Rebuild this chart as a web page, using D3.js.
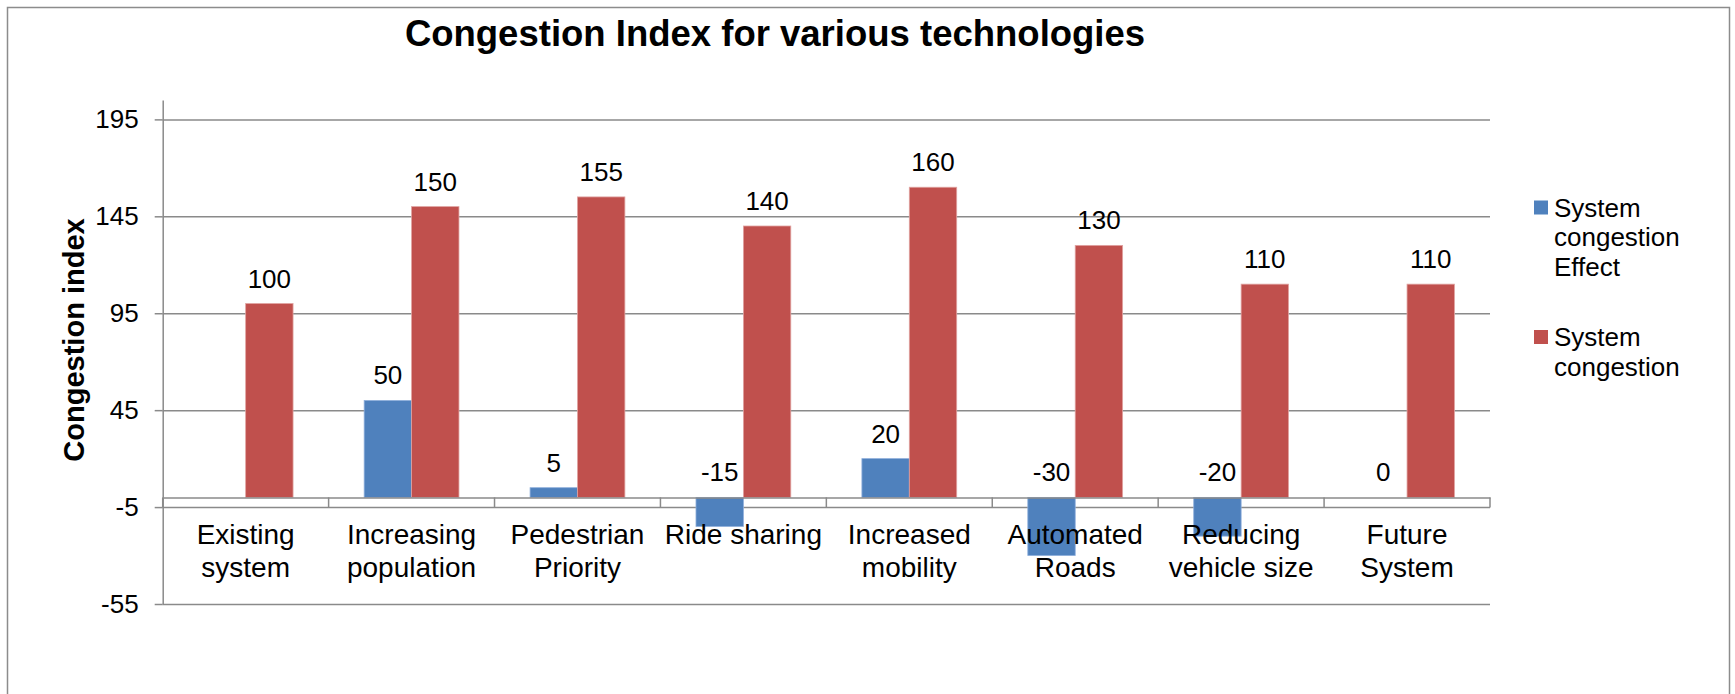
<!DOCTYPE html>
<html>
<head>
<meta charset="utf-8">
<script src="https://cdn.jsdelivr.net/npm/d3@7"></script>
<style>
  body { margin: 0; background: #fff; }
  svg { font-family: "Liberation Sans", Arial, sans-serif; }
</style>
</head>
<body>
<div id="chart"></div>
<script>
// chart data
const categories = ["Existing system", "Increasing population", "Pedestrian Priority", "Ride sharing",
                    "Increased mobility", "Automated Roads", "Reducing vehicle size", "Future System"];
const categoryLines = [["Existing", "system"], ["Increasing", "population"], ["Pedestrian", "Priority"], ["Ride sharing"],
                       ["Increased", "mobility"], ["Automated", "Roads"], ["Reducing", "vehicle size"], ["Future", "System"]];
const effectValues = [null, 50, 5, -15, 20, -30, -20, 0];
const congestionValues = [100, 150, 155, 140, 160, 130, 110, 110];
const seriesNames = [["System", "congestion", "Effect"], ["System", "congestion"]];
const yTicks = [-55, -5, 45, 95, 145, 195];

const WIDTH = 1735, HEIGHT = 694;
const PLOT = {left: 162.7, right: 1490, top: 100, bottom: 604};
const BLUE = "#4F81BD", RED = "#C0504D", GRID = "#8a8a8a";

const svg = d3.select("#chart").append("svg")
    .attr("width", WIDTH)
    .attr("height", HEIGHT);

// outer chart border
svg.append("rect")
    .attr("x", 7.5).attr("y", 7.5)
    .attr("width", 1722).attr("height", 740)
    .attr("fill", "none").attr("stroke", "#8c8c8c").attr("stroke-width", 1.5);

const y = d3.scaleLinear().domain([-55, 205]).range([PLOT.bottom, PLOT.top]);
const x = d3.scaleBand().domain(categories).range([PLOT.left, PLOT.right]).padding(0);
const barW = x.bandwidth() / 3.5;

// gridlines
svg.append("g")
    .attr("transform", "translate(" + PLOT.left + ",0)")
    .call(d3.axisLeft(y).tickValues(yTicks).tickSize(-(PLOT.right - PLOT.left)).tickFormat(""))
    .call(g => g.select(".domain").remove())
    .call(g => g.selectAll("line").attr("stroke", GRID).attr("stroke-width", 1.5));

// y axis
svg.append("g")
    .attr("transform", "translate(" + PLOT.left + ",0)")
    .call(d3.axisLeft(y).tickValues(yTicks).tickSize(8).tickSizeOuter(0).tickPadding(16)
        .tickFormat(d => String(d)))
    .call(g => g.select(".domain").attr("stroke", GRID).attr("stroke-width", 1.5))
    .call(g => g.selectAll("line").attr("stroke", GRID).attr("stroke-width", 1.5))
    .call(g => g.selectAll("text").attr("font-size", "26px").attr("fill", "#000")
        .attr("font-family", "'Liberation Sans', Arial, sans-serif"));

// bars
svg.selectAll(".bar-effect")
  .data(effectValues.map((v, i) => ({v: v, c: categories[i]})).filter(d => d.v !== null))
  .enter()
  .append("rect")
    .attr("class", "bar-effect")
    .attr("x", d => x(d.c) + x.bandwidth() / 2 - barW)
    .attr("y", d => y(Math.max(0, d.v)))
    .attr("width", barW)
    .attr("height", d => Math.abs(y(d.v) - y(0)))
    .attr("fill", BLUE)
    .attr("stroke", "#8eaedb").attr("stroke-width", 0.8);

svg.selectAll(".bar-cong")
  .data(congestionValues.map((v, i) => ({v: v, c: categories[i]})))
  .enter()
  .append("rect")
    .attr("class", "bar-cong")
    .attr("x", d => x(d.c) + x.bandwidth() / 2)
    .attr("y", d => y(Math.max(0, d.v)))
    .attr("width", barW)
    .attr("height", d => Math.abs(y(d.v) - y(0)))
    .attr("fill", RED)
    .attr("stroke", "#e0a3a1").attr("stroke-width", 0.8);

// x axis at zero, with ticks between categories
const xAxis = svg.append("g")
    .attr("transform", "translate(0," + y(0) + ")")
    .call(d3.axisBottom(x).tickSize(0).tickSizeOuter(0).tickFormat(""))
    .call(g => g.select(".domain").attr("stroke", GRID).attr("stroke-width", 1.5));

xAxis.selectAll(".boundary")
  .data(categories.concat([null]))
  .enter()
  .append("line")
    .attr("x1", (d, i) => PLOT.left + i * x.bandwidth())
    .attr("x2", (d, i) => PLOT.left + i * x.bandwidth())
    .attr("y1", 0).attr("y2", 10)
    .attr("stroke", GRID).attr("stroke-width", 1.5);

xAxis.selectAll(".cat")
  .data(categoryLines)
  .enter()
  .append("text")
    .attr("class", "cat")
    .attr("text-anchor", "middle")
    .attr("font-size", "28px")
    .attr("fill", "#000")
    .each(function(lines, i) {
      const t = d3.select(this);
      lines.forEach((line, j) => {
        t.append("tspan")
          .attr("x", x(categories[i]) + x.bandwidth() / 2)
          .attr("y", 47 + j * 33)
          .text(line);
      });
    });

// data labels
svg.selectAll(".lab-effect")
  .data(effectValues.map((v, i) => ({v: v, c: categories[i]})).filter(d => d.v !== null))
  .enter()
  .append("text")
    .attr("x", d => x(d.c) + x.bandwidth() / 2 - barW / 2)
    .attr("y", d => y(Math.max(0, d.v)) - 16)
    .attr("text-anchor", "middle")
    .attr("font-size", "26px")
    .text(d => d.v);

svg.selectAll(".lab-cong")
  .data(congestionValues.map((v, i) => ({v: v, c: categories[i]})))
  .enter()
  .append("text")
    .attr("x", d => x(d.c) + x.bandwidth() / 2 + barW / 2)
    .attr("y", d => y(d.v) - 16)
    .attr("text-anchor", "middle")
    .attr("font-size", "26px")
    .text(d => d.v);

// titles
svg.append("text")
    .attr("x", 775).attr("y", 46)
    .attr("text-anchor", "middle")
    .attr("font-size", "36.5px")
    .attr("font-weight", "bold")
    .text("Congestion Index for various technologies");

svg.append("text")
    .attr("transform", "translate(84,340) rotate(-90)")
    .attr("text-anchor", "middle")
    .attr("font-size", "29px")
    .attr("font-weight", "bold")
    .text("Congestion index");

// legend
const legendTops = [216.5, 346];
[BLUE, RED].forEach((col, k) => {
  svg.append("rect")
    .attr("x", 1534).attr("y", legendTops[k] - 16)
    .attr("width", 14).attr("height", 14)
    .attr("fill", col);
  seriesNames[k].forEach((line, j) => {
    svg.append("text")
      .attr("x", 1554).attr("y", legendTops[k] + j * 29.5)
      .attr("font-size", "26px")
      .text(line);
  });
});
</script>
</body>
</html>
